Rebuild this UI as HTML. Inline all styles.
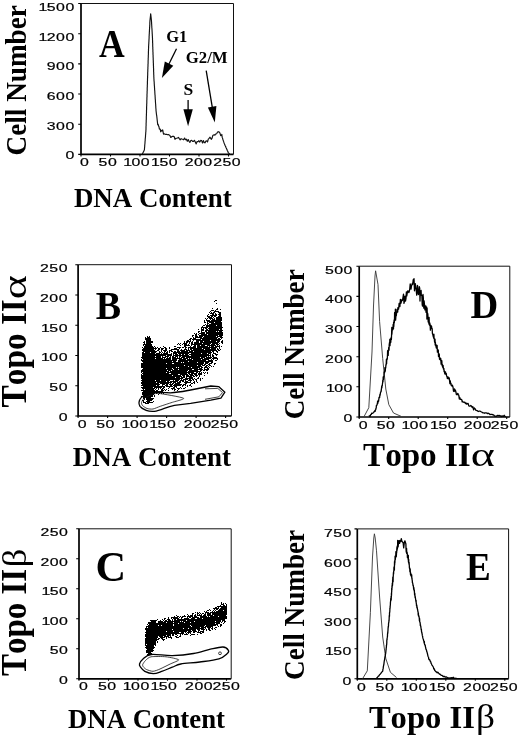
<!DOCTYPE html>
<html lang="en"><head><meta charset="utf-8"><title>Figure</title>
<style>html,body{margin:0;padding:0;background:#fff}svg{display:block}text{fill:#000;font-kerning:none}</style></head><body>
<svg width="520" height="738" viewBox="0 0 520 738" font-family='"Liberation Sans","DejaVu Sans",sans-serif'>
<rect width="520" height="738" fill="#fff"/>
<path d="M81 3.5V154.4H233.5" fill="none" stroke="#000" stroke-width="1.7"/>
<path d="M81 3.5H233.5V154.4" fill="none" stroke="#111" stroke-width="1.0"/>
<path d="M78.2 154.4H81M78.2 124.2H81M78.2 94.0H81M78.2 63.9H81M78.2 33.7H81M78.2 3.5H81M81.0 154.4v2M110.5 154.4v2M140.0 154.4v2M169.5 154.4v2M199.0 154.4v2M228.5 154.4v2" fill="none" stroke="#000" stroke-width="1.1"/>
<text transform="translate(65.42 159.2) scale(1.38 1)" x="0.00" y="0" font-size="11.5" stroke="#000" stroke-width="0.2">0</text>
<text transform="translate(46.82 129.5) scale(1.38 1)" x="0.00 6.74 13.48" y="0" font-size="11.5" stroke="#000" stroke-width="0.2">300</text>
<text transform="translate(46.82 99.8) scale(1.38 1)" x="0.00 6.74 13.48" y="0" font-size="11.5" stroke="#000" stroke-width="0.2">600</text>
<text transform="translate(46.82 70.2) scale(1.38 1)" x="0.00 6.74 13.48" y="0" font-size="11.5" stroke="#000" stroke-width="0.2">900</text>
<text transform="translate(37.52 40.5) scale(1.38 1)" x="0.72 6.74 13.48 20.22" y="0" font-size="11.5" stroke="#000" stroke-width="0.2">1200</text>
<text transform="translate(37.52 10.8) scale(1.38 1)" x="0.72 6.74 13.48 20.22" y="0" font-size="11.5" stroke="#000" stroke-width="0.2">1500</text>
<text transform="translate(79.92 166.3) scale(1.38 1)" x="0.00" y="0" font-size="11.5" stroke="#000" stroke-width="0.2">0</text>
<text transform="translate(98.62 166.3) scale(1.38 1)" x="0.00 6.74" y="0" font-size="11.5" stroke="#000" stroke-width="0.2">50</text>
<text transform="translate(122.22 166.3) scale(1.38 1)" x="0.72 6.74 13.48" y="0" font-size="11.5" stroke="#000" stroke-width="0.2">100</text>
<text transform="translate(150.12 166.3) scale(1.38 1)" x="0.72 6.74 13.48" y="0" font-size="11.5" stroke="#000" stroke-width="0.2">150</text>
<text transform="translate(184.72 166.3) scale(1.38 1)" x="0.00 6.74 13.48" y="0" font-size="11.5" stroke="#000" stroke-width="0.2">200</text>
<text transform="translate(213.22 166.3) scale(1.38 1)" x="0.00 6.74 13.48" y="0" font-size="11.5" stroke="#000" stroke-width="0.2">250</text>
<text transform="translate(25.6 155.5) rotate(-90) scale(1 1.04)" font-family='"Liberation Serif","DejaVu Serif",serif' font-weight="bold" font-size="27.3" textLength="150.4" lengthAdjust="spacingAndGlyphs">Cell Number</text>
<text x="73.9" y="206.6" font-family='"Liberation Serif","DejaVu Serif",serif' font-weight="bold" font-size="27" textLength="157.8" lengthAdjust="spacingAndGlyphs">DNA Content</text>
<text transform="translate(99.05 56.60) scale(1 1.1)" font-family='"Liberation Serif","DejaVu Serif",serif' font-weight="bold" font-size="35.6">A</text>
<text x="166.2" y="41.8" font-family='"Liberation Serif","DejaVu Serif",serif' font-weight="bold" font-size="16.5">G1</text>
<text x="185.7" y="63.0" font-family='"Liberation Serif","DejaVu Serif",serif' font-weight="bold" font-size="16.8">G2/M</text>
<text x="183.4" y="95.4" font-family='"Liberation Serif","DejaVu Serif",serif' font-weight="bold" font-size="17.5">S</text>
<path d="M176.5 48.8L168.2 65.5" stroke="#000" stroke-width="1.3" fill="none"/>
<path d="M161.9 78.0L164.8 61.5L173.3 65.8Z" fill="#000"/>
<path d="M188.1 100.0L188.1 111.3" stroke="#000" stroke-width="1.3" fill="none"/>
<path d="M188.1 126.2L183.4 109.3L192.8 109.3Z" fill="#000"/>
<path d="M206.2 70.6L212.5 108.7" stroke="#000" stroke-width="1.3" fill="none"/>
<path d="M214.8 122.5L207.9 107.4L216.4 106.0Z" fill="#000"/>
<path d="M142.3 154.1L142.7 153.3L143.1 152.5L143.5 151.7L143.9 150.9L144.3 150.1L144.5 149.2L144.5 148.3L144.6 147.4L144.7 146.5L144.7 145.6L144.8 144.7L144.9 143.8L145.0 142.9L145.0 142.0L145.1 141.1L145.2 140.2L145.2 139.3L145.3 138.4L145.4 137.5L145.5 136.6L145.5 135.7L145.6 134.8L145.7 133.9L145.7 133.0L145.8 132.1L145.9 131.2L145.9 130.3L146.0 129.4L146.0 128.5L146.0 127.6L146.0 126.7L146.1 125.8L146.1 124.9L146.1 124.0L146.1 123.1L146.2 122.2L146.2 121.2L146.2 120.3L146.3 119.4L146.3 118.5L146.3 117.6L146.3 116.7L146.4 115.8L146.4 114.9L146.4 114.0L146.5 113.1L146.5 112.2L146.5 111.3L146.5 110.4L146.6 109.5L146.6 108.6L146.6 107.7L146.6 106.8L146.7 105.9L146.7 105.0L146.7 104.1L146.8 103.2L146.8 102.3L146.8 101.4L146.8 100.5L146.9 99.6L146.9 98.7L146.9 97.8L147.0 96.9L147.0 96.0L147.0 95.1L147.0 94.2L147.1 93.3L147.1 92.4L147.1 91.5L147.2 90.6L147.2 89.7L147.2 88.8L147.2 87.9L147.3 87.0L147.3 86.0L147.3 85.1L147.4 84.2L147.4 83.3L147.4 82.4L147.4 81.5L147.5 80.6L147.5 79.7L147.5 78.8L147.6 77.9L147.6 77.0L147.6 76.1L147.7 75.2L147.7 74.3L147.7 73.4L147.7 72.5L147.8 71.6L147.8 70.7L147.8 69.8L147.9 68.9L147.9 68.0L147.9 67.1L148.0 66.2L148.0 65.3L148.0 64.4L148.1 63.5L148.1 62.6L148.1 61.7L148.1 60.8L148.2 59.9L148.2 59.0L148.2 58.1L148.3 57.2L148.3 56.3L148.3 55.4L148.4 54.5L148.4 53.6L148.4 52.7L148.4 51.8L148.5 50.9L148.5 50.0L148.5 49.0L148.6 48.1L148.6 47.2L148.6 46.3L148.7 45.4L148.7 44.5L148.8 43.6L148.8 42.7L148.9 41.8L148.9 40.9L149.0 40.0L149.0 39.1L149.1 38.2L149.1 37.3L149.1 36.4L149.2 35.5L149.2 34.6L149.3 33.7L149.3 32.8L149.4 31.9L149.4 31.0L149.5 30.1L149.5 29.2L149.6 28.3L149.6 27.4L149.7 26.5L149.7 25.6L149.8 24.7L149.8 23.8L149.8 22.9L149.9 22.0L149.9 21.1L150.0 20.2L150.1 19.3L150.2 18.4L150.3 17.5L150.4 16.6L150.5 15.7L150.6 14.8L150.6 13.9L150.7 13.8L150.8 14.7L150.9 15.6L151.0 16.5L151.1 17.4L151.2 18.3L151.3 19.2L151.4 20.1L151.5 21.0L151.5 21.9L151.6 22.8L151.6 23.7L151.7 24.6L151.7 25.5L151.8 26.4L151.8 27.3L151.9 28.2L152.0 29.1L152.0 30.0L152.1 30.9L152.1 31.8L152.2 32.7L152.2 33.6L152.3 34.5L152.3 35.4L152.4 36.3L152.4 37.2L152.5 38.1L152.5 39.0L152.5 39.9L152.6 40.8L152.6 41.7L152.6 42.6L152.7 43.5L152.7 44.4L152.7 45.3L152.7 46.2L152.8 47.1L152.8 48.0L152.8 48.9L152.9 49.8L152.9 50.7L152.9 51.6L153.0 52.5L153.0 53.5L153.0 54.4L153.1 55.3L153.1 56.2L153.1 57.1L153.2 58.0L153.2 58.9L153.2 59.8L153.3 60.7L153.3 61.6L153.3 62.5L153.4 63.4L153.4 64.3L153.4 65.2L153.5 66.1L153.5 67.0L153.5 67.9L153.6 68.8L153.6 69.7L153.6 70.6L153.6 71.5L153.7 72.4L153.7 73.3L153.7 74.2L153.8 75.1L153.8 76.0L153.8 76.9L153.9 77.8L153.9 78.7L154.0 79.6L154.0 80.5L154.1 81.4L154.2 82.3L154.2 83.2L154.3 84.1L154.3 85.0L154.4 85.9L154.5 86.8L154.5 87.7L154.6 88.6L154.6 89.5L154.7 90.4L154.8 91.3L154.8 92.2L154.9 93.1L154.9 94.0L155.0 94.9L155.1 95.8L155.1 96.7L155.2 97.6L155.2 98.5L155.3 99.4L155.4 100.3L155.4 101.2L155.5 102.1L155.5 103.0L155.6 103.9L155.7 104.8L155.7 105.7L155.8 106.6L155.8 107.5L155.9 108.5L156.0 109.4L156.0 110.3L156.1 111.1L156.2 112.0L156.3 112.9L156.4 113.8L156.5 114.7L156.7 115.6L156.8 116.5L156.9 117.4L157.0 118.3L157.1 119.2L157.2 120.1L157.3 121.0L157.4 121.9L157.5 122.8L157.6 123.7L157.7 124.6L158.1 124.2L158.5 125.9L159.0 126.8L159.4 129.1L159.8 128.9L160.3 129.3L160.7 131.8L161.2 130.3L161.9 131.0L162.7 129.9L163.5 134.1L164.2 133.8L165.0 134.2L165.8 134.4L166.6 134.3L167.4 134.7L168.3 134.5L169.1 134.9L169.9 135.5L170.8 137.5L171.6 136.8L172.5 136.4L173.3 136.2L174.1 136.5L175.0 139.3L175.8 138.4L176.7 138.2L177.5 138.0L178.4 137.4L179.3 138.7L180.2 139.9L181.1 138.7L181.9 139.0L182.8 139.2L183.7 139.8L184.6 138.1L185.5 139.7L186.4 139.2L187.3 141.3L188.2 139.6L189.0 141.3L189.9 142.4L190.8 140.5L191.7 140.3L192.6 141.3L193.5 141.3L194.4 140.3L195.3 142.0L196.2 143.9L197.1 141.5L198.0 141.7L198.9 140.7L199.8 142.1L200.7 140.4L201.6 140.5L202.5 143.0L203.4 140.6L204.3 142.7L205.1 142.8L205.9 141.0L206.7 140.9L207.5 142.0L208.3 139.2L209.1 138.4L209.9 137.2L210.7 138.3L211.4 139.3L212.1 138.1L212.8 135.5L213.5 135.0L214.2 134.8L214.9 135.1L215.6 134.0L216.3 133.9L216.9 133.3L217.6 132.0L218.2 131.7L218.9 131.9L219.5 132.3L220.1 133.6L220.7 135.7L221.2 135.1L221.5 135.3L221.8 134.3L222.1 137.0L222.4 137.9L222.7 138.7L222.9 139.6L223.2 140.4L223.5 141.3L223.8 142.1L224.1 143.0L224.4 143.8L224.8 144.7L225.1 145.5L225.5 146.3L225.8 147.1L226.2 148.0L226.6 148.8L226.9 149.6L227.3 150.5L227.7 151.3L228.0 152.1L228.4 152.9L229.1 153.5L229.8 154.1L230.5 154.6" fill="none" stroke="#111" stroke-width="1.15" stroke-linejoin="round"/>
<path d="M78.1 264.7V416H231.5" fill="none" stroke="#000" stroke-width="1.7"/>
<path d="M78.1 264.7H231.5V416" fill="none" stroke="#111" stroke-width="1.0"/>
<path d="M75.3 416.0H78.1M75.3 385.7H78.1M75.3 355.5H78.1M75.3 325.2H78.1M75.3 295.0H78.1M75.3 264.7H78.1M78.1 416v2M107.6 416v2M137.1 416v2M166.6 416v2M196.1 416v2M225.6 416v2" fill="none" stroke="#000" stroke-width="1.1"/>
<text transform="translate(58.67 420.8) scale(1.38 1)" x="0.00" y="0" font-size="11.5" stroke="#000" stroke-width="0.2">0</text>
<text transform="translate(49.37 391.1) scale(1.38 1)" x="0.00 6.74" y="0" font-size="11.5" stroke="#000" stroke-width="0.2">50</text>
<text transform="translate(40.07 361.4) scale(1.38 1)" x="0.72 6.74 13.48" y="0" font-size="11.5" stroke="#000" stroke-width="0.2">100</text>
<text transform="translate(40.07 331.8) scale(1.38 1)" x="0.72 6.74 13.48" y="0" font-size="11.5" stroke="#000" stroke-width="0.2">150</text>
<text transform="translate(40.07 302.1) scale(1.38 1)" x="0.00 6.74 13.48" y="0" font-size="11.5" stroke="#000" stroke-width="0.2">200</text>
<text transform="translate(40.07 272.4) scale(1.38 1)" x="0.00 6.74 13.48" y="0" font-size="11.5" stroke="#000" stroke-width="0.2">250</text>
<text transform="translate(77.82 427.9) scale(1.38 1)" x="0.00" y="0" font-size="11.5" stroke="#000" stroke-width="0.2">0</text>
<text transform="translate(96.22 427.9) scale(1.38 1)" x="0.00 6.74" y="0" font-size="11.5" stroke="#000" stroke-width="0.2">50</text>
<text transform="translate(120.62 427.9) scale(1.38 1)" x="0.72 6.74 13.48" y="0" font-size="11.5" stroke="#000" stroke-width="0.2">100</text>
<text transform="translate(148.32 427.9) scale(1.38 1)" x="0.72 6.74 13.48" y="0" font-size="11.5" stroke="#000" stroke-width="0.2">150</text>
<text transform="translate(183.72 427.9) scale(1.38 1)" x="0.00 6.74 13.48" y="0" font-size="11.5" stroke="#000" stroke-width="0.2">200</text>
<text transform="translate(210.72 427.9) scale(1.38 1)" x="0.00 6.74 13.48" y="0" font-size="11.5" stroke="#000" stroke-width="0.2">250</text>
<text transform="translate(25.6 407.4) rotate(-90) scale(1 1.08)" font-family='"Liberation Serif","DejaVu Serif",serif' font-weight="bold" font-size="33.3">Topo II<tspan font-weight="normal" font-size="31.5" textLength="24" lengthAdjust="spacingAndGlyphs">α</tspan></text>
<text x="72.8" y="465.5" font-family='"Liberation Serif","DejaVu Serif",serif' font-weight="bold" font-size="27.5" textLength="158.2" lengthAdjust="spacingAndGlyphs">DNA Content</text>
<text transform="translate(95.67 318.60) scale(1 1.05)" font-family='"Liberation Serif","DejaVu Serif",serif' font-weight="bold" font-size="38.0">B</text>
<path transform="translate(0 0.5)" d="M215 300h2M214 301h1M216 303h1M212 308h1M217 308h1M216 309h2M220 309h1M211 310h3M215 310h1M210 311h1M214 311h5M209 312h1M211 312h1M213 312h2M218 312h3M210 313h4M215 313h1M219 313h2M208 314h1M212 314h2M215 314h2M218 314h3M207 315h1M210 315h7M219 315h2M207 316h3M211 316h2M214 316h2M218 316h3M208 317h4M213 317h1M216 317h6M205 318h1M207 318h1M209 318h4M214 318h1M216 318h6M206 319h1M210 319h1M212 319h3M216 319h6M204 320h1M206 320h4M211 320h11M204 321h1M207 321h14M204 322h2M207 322h1M209 322h5M215 322h7M207 323h2M211 323h11M205 324h1M207 324h1M209 324h13M203 325h2M206 325h10M217 325h5M202 326h1M206 326h16M201 327h7M209 327h14M201 328h1M203 328h1M205 328h2M208 328h14M198 329h1M201 329h3M206 329h2M209 329h10M220 329h2M201 330h3M205 330h18M198 331h2M201 331h1M205 331h2M208 331h8M217 331h1M219 331h3M198 332h1M201 332h4M206 332h17M194 333h1M196 333h1M199 333h6M206 333h17M195 334h2M198 334h1M201 334h6M208 334h15M192 335h2M195 335h2M199 335h19M219 335h4M147 336h1M149 336h1M192 336h1M195 336h3M199 336h4M204 336h12M217 336h5M145 337h1M147 337h3M193 337h1M195 337h7M203 337h15M220 337h3M145 338h6M190 338h2M193 338h3M200 338h17M218 338h2M221 338h1M145 339h6M189 339h2M192 339h9M202 339h19M146 340h5M187 340h2M190 340h1M193 340h1M196 340h14M211 340h9M222 340h1M144 341h1M146 341h7M184 341h1M186 341h5M192 341h1M196 341h3M200 341h3M204 341h12M217 341h3M221 341h2M143 342h2M146 342h7M184 342h1M186 342h2M189 342h1M191 342h2M194 342h5M200 342h19M221 342h2M144 343h1M146 343h5M178 343h1M180 343h1M183 343h4M189 343h1M191 343h2M194 343h8M203 343h8M212 343h6M219 343h1M222 343h1M143 344h9M177 344h1M179 344h1M182 344h1M184 344h3M188 344h1M191 344h19M211 344h4M216 344h3M143 345h1M145 345h7M180 345h1M184 345h6M191 345h1M194 345h2M197 345h3M201 345h4M207 345h9M217 345h1M219 345h1M144 346h9M154 346h1M163 346h1M174 346h2M184 346h2M190 346h1M193 346h3M197 346h11M209 346h1M211 346h3M215 346h5M221 346h1M142 347h1M144 347h10M155 347h1M157 347h1M160 347h1M164 347h2M169 347h1M177 347h4M182 347h2M185 347h2M188 347h8M197 347h20M219 347h1M143 348h14M158 348h2M161 348h3M165 348h2M169 348h1M174 348h3M179 348h1M185 348h1M188 348h1M190 348h12M203 348h7M211 348h5M217 348h1M219 348h1M142 349h12M155 349h1M158 349h2M161 349h2M165 349h2M171 349h8M181 349h1M184 349h3M188 349h1M190 349h2M193 349h11M205 349h11M217 349h2M220 349h1M142 350h13M157 350h2M161 350h1M163 350h4M169 350h3M177 350h2M180 350h5M186 350h4M191 350h26M218 350h2M143 351h14M159 351h1M161 351h1M164 351h2M167 351h1M169 351h1M171 351h2M174 351h2M177 351h3M181 351h7M189 351h4M194 351h17M212 351h2M216 351h2M142 352h2M145 352h5M151 352h5M159 352h2M162 352h1M164 352h1M166 352h2M169 352h1M173 352h39M213 352h1M217 352h1M142 353h13M156 353h4M161 353h1M163 353h5M171 353h1M173 353h4M178 353h11M191 353h10M202 353h5M208 353h3M213 353h3M142 354h30M173 354h1M175 354h3M179 354h2M182 354h2M185 354h3M189 354h20M210 354h1M212 354h1M215 354h3M142 355h24M167 355h5M173 355h16M191 355h20M212 355h2M216 355h1M142 356h13M156 356h5M162 356h1M165 356h4M170 356h1M172 356h2M175 356h3M179 356h2M182 356h25M208 356h1M210 356h1M212 356h2M141 357h20M162 357h4M167 357h1M169 357h2M172 357h4M177 357h1M179 357h1M181 357h4M186 357h14M201 357h4M206 357h6M213 357h4M142 358h13M156 358h7M164 358h1M166 358h5M172 358h10M183 358h5M189 358h1M191 358h12M204 358h7M212 358h6M141 359h1M143 359h28M172 359h5M179 359h7M187 359h5M193 359h8M202 359h7M211 359h1M213 359h1M217 359h1M141 360h36M178 360h28M208 360h5M215 360h2M142 361h30M173 361h3M178 361h10M189 361h24M143 362h38M182 362h1M184 362h13M198 362h6M205 362h4M211 362h2M141 363h25M167 363h5M174 363h30M205 363h3M209 363h3M214 363h2M141 364h62M204 364h2M208 364h2M214 364h1M141 365h43M185 365h12M198 365h3M202 365h3M206 365h2M209 365h2M141 366h47M189 366h13M205 366h2M208 366h1M211 366h1M213 366h1M141 367h35M177 367h1M179 367h12M192 367h8M201 367h2M204 367h4M209 367h1M143 368h23M167 368h5M173 368h25M199 368h3M204 368h1M207 368h2M142 369h31M174 369h4M179 369h13M194 369h9M204 369h5M141 370h26M168 370h3M172 370h16M189 370h9M200 370h2M203 370h2M206 370h2M141 371h28M170 371h17M188 371h13M141 372h1M143 372h23M167 372h27M196 372h2M199 372h1M201 372h1M203 372h1M205 372h1M207 372h1M142 373h27M171 373h16M188 373h2M191 373h6M198 373h4M204 373h1M207 373h1M141 374h1M143 374h35M180 374h8M189 374h4M194 374h3M198 374h4M141 375h31M173 375h8M182 375h3M186 375h3M190 375h4M195 375h3M199 375h1M204 375h1M141 376h41M183 376h2M186 376h6M193 376h2M196 376h1M199 376h1M141 377h34M176 377h4M181 377h4M186 377h1M189 377h4M198 377h1M141 378h42M185 378h8M194 378h1M197 378h2M200 378h1M202 378h1M142 379h38M181 379h1M183 379h5M189 379h2M192 379h2M195 379h2M200 379h1M141 380h14M156 380h4M161 380h9M173 380h1M175 380h4M180 380h4M185 380h1M188 380h4M193 380h1M196 380h1M200 380h1M142 381h24M167 381h2M170 381h8M179 381h2M182 381h2M185 381h3M190 381h1M194 381h1M196 381h1M141 382h15M157 382h15M173 382h3M177 382h4M184 382h7M193 382h2M197 382h1M141 383h18M160 383h9M170 383h1M172 383h2M175 383h5M185 383h2M191 383h2M194 383h1M142 384h18M162 384h3M166 384h2M169 384h4M174 384h8M183 384h3M190 384h1M141 385h15M157 385h2M162 385h1M165 385h3M170 385h2M173 385h8M182 385h2M185 385h1M187 385h1M189 385h2M143 386h22M166 386h7M174 386h3M182 386h1M187 386h1M191 386h1M141 387h12M154 387h8M163 387h2M169 387h1M173 387h2M176 387h1M180 387h1M185 387h1M142 388h13M156 388h1M158 388h1M160 388h1M162 388h2M168 388h1M171 388h4M177 388h3M181 388h1M183 388h2M143 389h1M145 389h9M155 389h1M158 389h1M161 389h2M164 389h1M166 389h1M172 389h1M174 389h2M178 389h1M141 390h14M156 390h2M161 390h3M165 390h1M168 390h1M174 390h1M177 390h1M143 391h20M142 392h11M156 392h1M159 392h1M162 392h1M167 392h1M142 393h13M156 393h1M159 393h1M161 393h1M163 393h1M142 394h12M158 394h1M143 395h10M154 395h1M141 396h1M143 396h10M154 396h1M143 397h8M143 398h2M146 398h8M144 399h1M146 399h7M142 400h2M147 400h5M143 401h1M146 401h4M153 401h1M143 402h3M147 402h6M145 403h4" stroke="#000" stroke-width="1" fill="none" shape-rendering="crispEdges"/>
<path d="M139 402.3C139.5 399 141.5 396.5 145 395C149 393.3 153 392.4 157 392.2L170.4 392.8C178 392.5 184 391.2 190.6 390L210.8 386L218.9 386.7L224.9 392.2L220.9 398.2L210.8 400.2L190.6 403.3L174.4 405.3C170 406.2 167 407.3 164.3 408.3C160 410 157 411 154.2 411.3C151 411.5 148.5 411.2 146.2 410.3C143 409 141 407.8 140 406.3C139.2 405 138.8 403.5 139 402.3Z" fill="none" stroke="#000" stroke-width="1.3" stroke-linejoin="round"/>
<path d="M141.5 402.5C141.7 401.7 143.0 399.3 144.0 398.5C145.0 397.7 148.3 396.1 150.0 395.5C151.7 394.9 154.4 393.1 158.3 393.4C162.2 393.7 181.9 397.2 183.5 398.2C185.1 399.2 175.1 401.4 172.4 402.3C169.7 403.2 162.6 405.5 160.3 406.3C158.0 407.1 154.6 408.7 153.0 409.0C151.4 409.3 148.2 408.9 147.0 408.5C145.8 408.1 143.1 406.2 142.5 405.5C141.9 404.8 141.3 403.3 141.5 402.5Z" fill="none" stroke="#111" stroke-width="0.8" stroke-linejoin="round"/>
<path d="M205.0 388.8L217.8 388.4L222.5 392.6L218.9 396.8L205.0 399.3" fill="none" stroke="#111" stroke-width="0.8" stroke-linejoin="round"/>
<path d="M79 528.8V678.8H231.2" fill="none" stroke="#000" stroke-width="1.7"/>
<path d="M79 528.8H231.2V678.8" fill="none" stroke="#111" stroke-width="1.0"/>
<path d="M76.2 678.8H79M76.2 648.8H79M76.2 618.8H79M76.2 588.8H79M76.2 558.8H79M76.2 528.8H79M79.0 678.8v2M108.5 678.8v2M138.0 678.8v2M167.5 678.8v2M197.0 678.8v2M226.5 678.8v2" fill="none" stroke="#000" stroke-width="1.1"/>
<text transform="translate(59.12 683.8) scale(1.38 1)" x="0.00" y="0" font-size="11.5" stroke="#000" stroke-width="0.2">0</text>
<text transform="translate(49.82 654.3) scale(1.38 1)" x="0.00 6.74" y="0" font-size="11.5" stroke="#000" stroke-width="0.2">50</text>
<text transform="translate(40.52 624.8) scale(1.38 1)" x="0.72 6.74 13.48" y="0" font-size="11.5" stroke="#000" stroke-width="0.2">100</text>
<text transform="translate(40.52 595.3) scale(1.38 1)" x="0.72 6.74 13.48" y="0" font-size="11.5" stroke="#000" stroke-width="0.2">150</text>
<text transform="translate(40.52 565.8) scale(1.38 1)" x="0.00 6.74 13.48" y="0" font-size="11.5" stroke="#000" stroke-width="0.2">200</text>
<text transform="translate(40.52 536.3) scale(1.38 1)" x="0.00 6.74 13.48" y="0" font-size="11.5" stroke="#000" stroke-width="0.2">250</text>
<text transform="translate(79.02 690.4) scale(1.38 1)" x="0.00" y="0" font-size="11.5" stroke="#000" stroke-width="0.2">0</text>
<text transform="translate(97.92 690.4) scale(1.38 1)" x="0.00 6.74" y="0" font-size="11.5" stroke="#000" stroke-width="0.2">50</text>
<text transform="translate(121.82 690.4) scale(1.38 1)" x="0.72 6.74 13.48" y="0" font-size="11.5" stroke="#000" stroke-width="0.2">100</text>
<text transform="translate(149.52 690.4) scale(1.38 1)" x="0.72 6.74 13.48" y="0" font-size="11.5" stroke="#000" stroke-width="0.2">150</text>
<text transform="translate(185.12 690.4) scale(1.38 1)" x="0.00 6.74 13.48" y="0" font-size="11.5" stroke="#000" stroke-width="0.2">200</text>
<text transform="translate(212.42 690.4) scale(1.38 1)" x="0.00 6.74 13.48" y="0" font-size="11.5" stroke="#000" stroke-width="0.2">250</text>
<text transform="translate(25.6 676.1) rotate(-90) scale(1 1.08)" font-family='"Liberation Serif","DejaVu Serif",serif' font-weight="bold" font-size="33.0">Topo II<tspan font-weight="normal" font-size="32" dx="1.6" textLength="18.5" lengthAdjust="spacingAndGlyphs">β</tspan></text>
<text x="68.0" y="727.7" font-family='"Liberation Serif","DejaVu Serif",serif' font-weight="bold" font-size="27.5" textLength="157.0" lengthAdjust="spacingAndGlyphs">DNA Content</text>
<text transform="translate(95.54 581.10) scale(1 0.975)" font-family='"Liberation Serif","DejaVu Serif",serif' font-weight="bold" font-size="42.3">C</text>
<path transform="translate(0 0.5)" d="M221 602h1M221 603h1M223 603h1M225 603h1M221 604h3M226 604h1M220 605h1M223 605h2M226 605h1M217 606h10M215 607h2M218 607h1M221 607h6M213 608h6M220 608h7M209 609h1M214 609h1M216 609h2M219 609h8M207 610h2M210 610h1M213 610h1M215 610h1M218 610h5M224 610h3M204 611h1M206 611h1M212 611h1M214 611h1M216 611h11M195 612h1M197 612h1M199 612h1M205 612h4M210 612h17M192 613h2M197 613h2M200 613h1M202 613h2M205 613h1M207 613h4M212 613h15M187 614h1M192 614h1M195 614h1M197 614h1M199 614h1M201 614h1M204 614h2M207 614h4M212 614h15M176 615h1M184 615h1M188 615h1M190 615h3M194 615h2M197 615h5M203 615h3M207 615h6M214 615h12M174 616h1M177 616h2M180 616h1M182 616h4M187 616h6M194 616h3M200 616h7M208 616h1M210 616h8M219 616h8M168 617h1M171 617h7M179 617h1M181 617h2M187 617h1M189 617h2M192 617h7M200 617h27M164 618h2M168 618h1M171 618h1M173 618h6M181 618h1M184 618h5M191 618h4M197 618h5M203 618h24M157 619h1M162 619h1M164 619h1M167 619h3M172 619h1M174 619h2M177 619h48M150 620h7M160 620h1M163 620h1M165 620h2M168 620h3M172 620h1M174 620h12M187 620h34M222 620h3M151 621h5M158 621h5M164 621h16M181 621h1M183 621h11M195 621h20M216 621h5M222 621h1M224 621h2M148 622h8M158 622h8M167 622h6M174 622h10M185 622h5M191 622h29M221 622h1M224 622h1M148 623h30M179 623h36M216 623h4M223 623h1M147 624h1M149 624h24M174 624h44M220 624h2M148 625h10M159 625h2M162 625h11M174 625h16M191 625h14M206 625h10M217 625h1M220 625h2M146 626h45M192 626h12M205 626h8M218 626h1M220 626h1M146 627h1M148 627h52M201 627h5M207 627h4M212 627h1M215 627h2M145 628h38M184 628h4M189 628h15M205 628h1M208 628h2M211 628h2M214 628h1M145 629h27M173 629h23M197 629h3M201 629h4M206 629h1M208 629h2M212 629h1M215 629h1M146 630h45M192 630h4M198 630h2M203 630h1M206 630h1M209 630h2M146 631h20M167 631h6M174 631h13M188 631h4M193 631h4M198 631h1M200 631h4M145 632h34M181 632h3M185 632h1M187 632h4M193 632h2M197 632h4M202 632h2M146 633h38M186 633h1M188 633h1M190 633h1M200 633h2M145 634h26M172 634h2M175 634h2M180 634h1M182 634h1M184 634h4M191 634h4M197 634h1M145 635h21M167 635h4M172 635h2M177 635h1M180 635h1M190 635h1M145 636h13M159 636h4M164 636h5M170 636h1M175 636h2M179 636h2M146 637h12M160 637h5M166 637h1M168 637h4M176 637h3M145 638h12M158 638h2M161 638h2M166 638h1M171 638h1M145 639h14M162 639h3M145 640h12M163 640h1M145 641h11M157 641h1M145 642h11M157 642h1M145 643h11M145 644h1M147 644h9M145 645h9M155 645h1M146 646h8M145 647h10M146 648h8M147 649h6M146 650h8M146 651h7M146 652h5M148 653h4M147 654h3" stroke="#000" stroke-width="1" fill="none" shape-rendering="crispEdges"/>
<path d="M139.5 664.0C139.9 662.6 141.1 660.6 143.0 659.0C144.9 657.4 146.3 655.1 151.2 654.5C156.1 653.9 165.2 655.8 172.3 655.6C179.4 655.4 187.2 654.6 193.5 653.5C199.8 652.4 205.5 650.3 210.4 649.2C215.3 648.1 220.0 646.8 223.0 647.0C226.0 647.2 227.7 649.2 228.4 650.3C229.1 651.4 228.9 652.1 227.3 653.5C225.7 654.9 223.5 657.4 218.9 658.8C214.3 660.2 206.2 661.1 199.8 662.0C193.5 662.9 185.4 663.1 180.8 664.0C176.2 664.9 175.5 666.0 172.3 667.2C169.1 668.4 164.9 670.3 161.7 671.4C158.5 672.5 156.1 673.6 153.3 673.6C150.5 673.6 146.9 672.5 144.8 671.4C142.7 670.3 141.5 668.4 140.6 667.2C139.7 666.0 139.1 665.4 139.5 664.0Z" fill="none" stroke="#000" stroke-width="1.3" stroke-linejoin="round"/>
<path d="M142.7 664.5C143.0 663.8 144.5 661.4 145.5 660.5C146.5 659.6 148.6 657.2 151.0 656.8C153.4 656.4 162.8 656.4 166.0 656.8C169.2 657.1 178.2 659.0 178.7 659.8C179.2 660.6 172.4 662.9 170.2 664.0C168.0 665.1 162.0 668.1 160.0 669.0C158.0 669.9 154.6 671.2 153.0 671.3C151.4 671.4 147.6 670.0 146.5 669.5C145.4 669.0 143.7 667.4 143.3 666.8C142.9 666.2 142.4 665.2 142.7 664.5Z" fill="none" stroke="#111" stroke-width="0.8" stroke-linejoin="round"/>
<circle cx="220" cy="653.3" r="1.4" fill="none" stroke="#111" stroke-width="0.8"/>
<path d="M359.2 266.2V417H509.8" fill="none" stroke="#000" stroke-width="1.7"/>
<path d="M359.2 266.2H509.8V417" fill="none" stroke="#111" stroke-width="1.0"/>
<path d="M356.4 417.0H359.2M356.4 386.8H359.2M356.4 356.7H359.2M356.4 326.5H359.2M356.4 296.4H359.2M356.4 266.2H359.2M359.2 417v2M388.7 417v2M418.2 417v2M447.7 417v2M477.2 417v2M506.7 417v2" fill="none" stroke="#000" stroke-width="1.1"/>
<text transform="translate(343.52 421.8) scale(1.38 1)" x="0.00" y="0" font-size="11.5" stroke="#000" stroke-width="0.2">0</text>
<text transform="translate(324.92 392.2) scale(1.38 1)" x="0.72 6.74 13.48" y="0" font-size="11.5" stroke="#000" stroke-width="0.2">100</text>
<text transform="translate(324.92 362.6) scale(1.38 1)" x="0.00 6.74 13.48" y="0" font-size="11.5" stroke="#000" stroke-width="0.2">200</text>
<text transform="translate(324.92 333.0) scale(1.38 1)" x="0.00 6.74 13.48" y="0" font-size="11.5" stroke="#000" stroke-width="0.2">300</text>
<text transform="translate(324.92 303.4) scale(1.38 1)" x="0.00 6.74 13.48" y="0" font-size="11.5" stroke="#000" stroke-width="0.2">400</text>
<text transform="translate(324.92 273.8) scale(1.38 1)" x="0.00 6.74 13.48" y="0" font-size="11.5" stroke="#000" stroke-width="0.2">500</text>
<text transform="translate(358.72 428.8) scale(1.38 1)" x="0.00" y="0" font-size="11.5" stroke="#000" stroke-width="0.2">0</text>
<text transform="translate(376.72 428.8) scale(1.38 1)" x="0.00 6.74" y="0" font-size="11.5" stroke="#000" stroke-width="0.2">50</text>
<text transform="translate(400.42 428.8) scale(1.38 1)" x="0.72 6.74 13.48" y="0" font-size="11.5" stroke="#000" stroke-width="0.2">100</text>
<text transform="translate(429.12 428.8) scale(1.38 1)" x="0.72 6.74 13.48" y="0" font-size="11.5" stroke="#000" stroke-width="0.2">150</text>
<text transform="translate(463.82 428.8) scale(1.38 1)" x="0.00 6.74 13.48" y="0" font-size="11.5" stroke="#000" stroke-width="0.2">200</text>
<text transform="translate(490.82 428.8) scale(1.38 1)" x="0.00 6.74 13.48" y="0" font-size="11.5" stroke="#000" stroke-width="0.2">250</text>
<text transform="translate(303.8 419.3) rotate(-90) scale(1 1.04)" font-family='"Liberation Serif","DejaVu Serif",serif' font-weight="bold" font-size="27.3" textLength="150.0" lengthAdjust="spacingAndGlyphs">Cell Number</text>
<text x="363.1" y="466.0" font-family='"Liberation Serif","DejaVu Serif",serif' font-weight="bold" font-size="33.1">Topo II<tspan font-weight="normal" font-size="33" textLength="24" lengthAdjust="spacingAndGlyphs">α</tspan></text>
<text transform="translate(470.42 318.40) scale(1 1.03)" font-family='"Liberation Serif","DejaVu Serif",serif' font-weight="bold" font-size="38.4">D</text>
<path d="M364.2 416.3L368.8 407.7L372.0 352.0L373.5 306.0L375.0 276.0L375.6 270.8L376.5 276.0L378.0 284.6L379.6 321.5L382.7 358.5L385.8 389.0L388.8 404.6L393.5 413.0L401.0 416.3" fill="none" stroke="#333" stroke-width="0.9" stroke-linejoin="round"/>
<path d="M368.8 416.2L369.4 415.9L370.0 416.5L370.6 414.8L371.2 414.4L371.8 413.1L372.4 413.3L373.0 413.0L373.6 412.5L374.2 411.7L374.8 410.6L375.2 411.3L375.4 409.8L375.7 409.9L375.9 408.4L376.2 408.1L376.4 405.5L376.7 405.2L376.9 405.3L377.1 404.8L377.4 402.9L377.6 401.4L377.9 403.1L378.1 400.5L378.4 401.3L378.6 401.3L378.9 398.5L379.1 397.2L379.4 397.2L379.6 397.6L379.9 394.5L380.1 395.4L380.4 393.2L380.6 392.2L380.9 391.6L381.1 391.7L381.2 389.8L381.3 390.5L381.5 388.3L381.6 387.6L381.7 386.3L381.9 387.8L382.0 385.5L382.2 385.7L382.3 385.7L382.4 384.2L382.6 383.0L382.7 381.8L382.8 380.2L383.0 381.7L383.1 380.0L383.2 376.8L383.4 377.5L383.5 379.4L383.7 377.5L383.8 376.6L383.9 376.7L384.1 372.0L384.2 373.2L384.3 372.3L384.5 372.1L384.6 372.6L384.8 370.1L384.9 367.7L385.0 368.3L385.2 367.4L385.3 371.1L385.4 368.5L385.6 367.9L385.7 367.9L385.9 364.7L386.0 365.3L386.2 364.1L386.3 362.8L386.4 359.4L386.6 363.8L386.7 359.9L386.9 358.7L387.0 359.6L387.2 358.1L387.3 358.9L387.5 354.6L387.6 350.7L387.8 351.3L387.9 353.2L388.1 353.5L388.2 355.4L388.4 349.8L388.5 350.4L388.7 347.5L388.8 349.8L389.0 350.3L389.1 349.4L389.2 344.9L389.4 343.3L389.5 342.6L389.7 344.4L389.8 339.4L390.0 345.6L390.1 343.7L390.3 342.9L390.4 338.9L390.6 340.2L390.8 342.4L390.9 338.2L391.1 339.1L391.3 337.1L391.4 339.6L391.6 333.9L391.8 327.5L391.9 334.2L392.1 331.1L392.3 327.8L392.4 329.2L392.6 327.7L392.8 329.9L392.9 329.6L393.1 324.8L393.3 324.1L393.5 328.7L393.6 322.2L393.8 326.4L394.0 322.7L394.1 320.0L394.3 322.7L394.5 320.4L394.6 312.6L394.8 319.5L395.0 314.8L395.2 315.0L395.4 309.1L395.6 320.2L395.9 316.0L396.1 312.5L396.3 315.7L396.5 313.6L396.8 311.6L397.0 309.3L397.2 310.4L397.5 311.2L397.7 312.0L397.9 307.6L398.1 308.0L398.4 309.0L398.6 309.1L398.8 307.1L399.1 303.5L399.3 304.9L399.5 303.3L399.9 306.5L400.4 299.3L400.9 303.3L401.4 301.6L401.9 299.7L402.4 300.5L403.0 297.3L403.5 294.1L404.0 303.4L404.5 301.1L405.0 296.1L405.5 301.1L406.0 298.5L406.4 291.9L406.8 295.8L407.2 293.3L407.7 290.8L408.1 290.9L408.5 292.1L408.9 292.6L409.4 290.8L409.8 288.5L410.2 284.0L410.6 285.6L411.0 289.1L411.5 285.9L411.9 284.7L412.3 283.5L412.7 284.5L413.2 279.7L413.6 281.5L414.0 278.6L414.5 290.8L414.9 286.4L415.3 283.6L415.8 286.9L416.2 289.9L416.7 295.2L417.1 291.9L417.5 285.3L418.0 291.5L418.4 294.5L418.9 292.1L419.3 286.6L419.7 288.1L420.0 301.1L420.2 295.5L420.5 291.6L420.8 291.6L421.1 290.5L421.3 295.2L421.6 295.4L421.9 295.9L422.2 304.7L422.5 306.1L422.7 299.6L423.0 294.5L423.3 297.6L423.6 304.5L423.8 308.1L424.1 300.9L424.4 304.0L424.7 305.7L424.9 309.9L425.2 308.6L425.5 307.8L425.8 305.8L426.0 312.3L426.2 311.6L426.4 308.2L426.7 307.2L426.9 319.1L427.1 308.2L427.3 315.5L427.5 313.1L427.8 313.9L428.0 316.5L428.2 322.0L428.4 319.5L428.7 317.8L428.9 324.0L429.1 317.3L429.3 324.0L429.5 325.1L429.8 322.9L430.0 324.3L430.2 326.4L430.4 330.1L430.6 328.9L430.9 325.5L431.1 326.7L431.3 326.6L431.5 326.0L431.8 328.4L432.0 328.3L432.2 328.9L432.4 333.5L432.6 333.8L432.8 334.6L433.1 335.9L433.3 336.8L433.5 336.4L433.7 338.2L433.9 334.2L434.1 338.5L434.3 338.7L434.6 342.2L434.8 340.7L435.0 339.1L435.2 345.1L435.4 342.2L435.6 345.3L435.9 346.1L436.1 346.8L436.3 348.0L436.5 345.2L436.7 345.1L436.9 348.1L437.1 345.4L437.4 352.2L437.6 351.4L437.8 351.0L438.0 350.5L438.3 350.0L438.5 356.6L438.8 355.7L439.0 353.7L439.3 354.5L439.5 359.3L439.8 358.2L440.1 357.9L440.3 359.9L440.6 360.1L440.8 358.6L441.1 364.2L441.3 363.9L441.6 363.3L441.8 360.6L442.1 365.7L442.3 364.5L442.6 366.9L442.9 367.5L443.1 365.3L443.4 369.0L443.6 368.6L443.9 368.5L444.1 371.6L444.5 371.0L444.8 373.9L445.2 373.5L445.5 371.8L445.9 374.4L446.3 373.6L446.6 376.2L447.0 376.3L447.4 378.7L447.7 377.4L448.1 376.9L448.4 378.6L448.8 378.9L449.2 377.8L449.5 380.2L449.9 383.6L450.3 381.0L450.6 384.0L451.0 383.4L451.3 385.6L451.7 385.8L452.1 386.0L452.4 385.2L452.8 386.5L453.1 387.7L453.5 391.2L454.0 391.5L454.5 389.0L455.0 391.2L455.4 390.2L455.9 392.0L456.4 394.5L456.9 394.6L457.4 394.7L457.8 393.3L458.3 394.8L458.8 395.3L459.3 398.8L459.8 397.5L460.2 399.3L460.7 399.1L461.2 399.4L461.7 399.6L462.2 401.9L462.6 401.3L463.3 402.2L464.0 402.3L464.7 402.1L465.4 403.6L466.0 402.9L466.7 404.1L467.4 403.7L468.1 403.4L468.8 405.9L469.5 406.2L470.2 406.1L470.8 405.4L471.5 406.1L472.2 407.5L472.9 406.8L473.6 409.9L474.3 407.9L475.0 408.6L475.6 410.1L476.3 410.3L477.0 410.5L477.7 411.1L478.4 411.5L479.2 411.2L480.0 411.2L480.7 411.5L481.5 412.0L482.3 412.3L483.0 412.9L483.8 412.8L484.6 413.3L485.4 412.8L486.1 412.9L486.9 413.1L487.7 413.6L488.4 413.2L489.2 413.8L490.0 414.6L490.7 414.4L491.5 414.3L492.3 414.5L493.0 414.8L493.8 415.0L494.6 416.2L495.4 416.2L496.2 416.4L497.0 415.6L497.8 415.4L498.6 415.6L499.4 415.4L500.2 416.1L501.0 415.8L501.8 416.6L502.6 415.9L503.4 416.4L504.2 415.3L505.0 416.4L505.8 416.6" fill="none" stroke="#000" stroke-width="1.3" stroke-linejoin="round"/>
<path d="M357.3 528.9V678.8H508.6" fill="none" stroke="#000" stroke-width="1.7"/>
<path d="M357.3 528.9H508.6V678.8" fill="none" stroke="#111" stroke-width="1.0"/>
<path d="M354.5 678.8H357.3M354.5 648.8H357.3M354.5 618.8H357.3M354.5 588.9H357.3M354.5 558.9H357.3M354.5 528.9H357.3M357.3 678.8v2M386.8 678.8v2M416.3 678.8v2M445.8 678.8v2M475.3 678.8v2M504.8 678.8v2" fill="none" stroke="#000" stroke-width="1.1"/>
<text transform="translate(342.62 684.6) scale(1.38 1)" x="0.00" y="0" font-size="11.5" stroke="#000" stroke-width="0.2">0</text>
<text transform="translate(324.02 655.1) scale(1.38 1)" x="0.72 6.74 13.48" y="0" font-size="11.5" stroke="#000" stroke-width="0.2">150</text>
<text transform="translate(324.02 625.6) scale(1.38 1)" x="0.00 6.74 13.48" y="0" font-size="11.5" stroke="#000" stroke-width="0.2">300</text>
<text transform="translate(324.02 596.1) scale(1.38 1)" x="0.00 6.74 13.48" y="0" font-size="11.5" stroke="#000" stroke-width="0.2">450</text>
<text transform="translate(324.02 566.6) scale(1.38 1)" x="0.00 6.74 13.48" y="0" font-size="11.5" stroke="#000" stroke-width="0.2">600</text>
<text transform="translate(324.02 537.1) scale(1.38 1)" x="0.00 6.74 13.48" y="0" font-size="11.5" stroke="#000" stroke-width="0.2">750</text>
<text transform="translate(357.12 690.6) scale(1.38 1)" x="0.00" y="0" font-size="11.5" stroke="#000" stroke-width="0.2">0</text>
<text transform="translate(375.62 690.6) scale(1.38 1)" x="0.00 6.74" y="0" font-size="11.5" stroke="#000" stroke-width="0.2">50</text>
<text transform="translate(399.82 690.6) scale(1.38 1)" x="0.72 6.74 13.48" y="0" font-size="11.5" stroke="#000" stroke-width="0.2">100</text>
<text transform="translate(427.72 690.6) scale(1.38 1)" x="0.72 6.74 13.48" y="0" font-size="11.5" stroke="#000" stroke-width="0.2">150</text>
<text transform="translate(463.12 690.6) scale(1.38 1)" x="0.00 6.74 13.48" y="0" font-size="11.5" stroke="#000" stroke-width="0.2">200</text>
<text transform="translate(490.12 690.6) scale(1.38 1)" x="0.00 6.74 13.48" y="0" font-size="11.5" stroke="#000" stroke-width="0.2">250</text>
<text transform="translate(303.8 679.9) rotate(-90) scale(1 1.04)" font-family='"Liberation Serif","DejaVu Serif",serif' font-weight="bold" font-size="27.3" textLength="150.0" lengthAdjust="spacingAndGlyphs">Cell Number</text>
<text x="368.9" y="727.7" font-family='"Liberation Serif","DejaVu Serif",serif' font-weight="bold" font-size="32.6">Topo II<tspan font-weight="normal" font-size="33.2" dx="1.2" textLength="19" lengthAdjust="spacingAndGlyphs">β</tspan></text>
<text transform="translate(465.96 580.20) scale(1 1.065)" font-family='"Liberation Serif","DejaVu Serif",serif' font-weight="bold" font-size="37.2">E</text>
<path d="M362.7 678.5L367.3 670.8L370.4 612.3L372.5 557.0L373.8 538.0L374.4 533.8L375.2 538.0L376.5 550.8L379.6 597.0L382.7 637.0L385.8 658.5L390.4 672.3L396.5 677.5" fill="none" stroke="#333" stroke-width="0.9" stroke-linejoin="round"/>
<path d="M376.5 678.5L377.0 677.7L377.5 677.2L378.0 676.6L378.5 676.0L379.0 675.8L379.5 674.7L380.0 674.4L380.5 673.9L381.0 673.2L381.5 672.4L382.0 671.8L382.5 671.4L382.8 670.7L382.9 669.3L383.1 668.7L383.2 668.4L383.3 667.2L383.5 665.9L383.6 665.6L383.7 665.0L383.9 664.1L384.0 663.2L384.1 662.3L384.2 661.5L384.4 660.4L384.5 660.2L384.6 659.3L384.8 658.1L384.9 657.3L385.0 656.6L385.2 655.9L385.3 655.9L385.4 654.5L385.6 653.9L385.7 652.9L385.8 652.1L385.9 651.2L386.0 649.8L386.1 650.1L386.1 649.2L386.2 648.3L386.3 647.5L386.4 647.0L386.4 645.5L386.5 645.2L386.6 645.3L386.7 644.0L386.8 642.7L386.8 640.9L386.9 639.6L387.0 639.9L387.1 639.6L387.1 638.3L387.2 637.9L387.3 637.2L387.4 636.6L387.5 636.1L387.5 634.8L387.6 633.5L387.7 632.8L387.8 631.7L387.8 633.1L387.9 631.2L388.0 630.3L388.1 628.1L388.2 627.4L388.2 627.5L388.3 627.0L388.4 626.2L388.5 626.0L388.5 624.6L388.6 623.2L388.7 622.5L388.8 622.4L388.9 621.9L388.9 621.3L389.0 619.9L389.1 620.4L389.2 617.4L389.2 617.3L389.3 615.6L389.4 615.2L389.5 616.2L389.5 612.7L389.6 612.9L389.7 612.1L389.8 611.6L389.8 611.2L389.9 609.0L390.0 608.5L390.1 607.6L390.1 606.3L390.2 606.5L390.3 605.2L390.4 604.5L390.4 603.1L390.5 601.9L390.6 601.3L390.7 600.4L390.7 599.9L390.8 598.5L390.9 598.1L391.0 600.6L391.1 596.3L391.1 597.7L391.2 599.8L391.3 597.0L391.4 595.4L391.4 593.4L391.5 595.9L391.6 592.1L391.7 591.6L391.7 588.3L391.8 590.2L391.9 589.8L392.0 585.7L392.0 587.8L392.1 587.3L392.2 586.4L392.3 583.1L392.4 583.6L392.5 585.5L392.6 583.7L392.6 579.7L392.7 581.5L392.8 577.2L392.9 580.4L393.0 580.8L393.1 581.8L393.2 576.2L393.3 576.2L393.3 575.2L393.4 573.1L393.5 572.2L393.6 574.0L393.7 571.1L393.8 571.3L393.9 569.6L393.9 568.7L394.0 567.0L394.1 567.4L394.2 569.4L394.3 569.4L394.4 570.0L394.5 561.7L394.5 561.6L394.6 565.3L394.7 564.0L394.8 560.4L394.9 562.6L395.0 560.4L395.1 556.1L395.3 559.8L395.4 558.5L395.6 557.2L395.7 557.1L395.9 551.6L396.0 556.9L396.2 554.1L396.3 556.5L396.5 553.1L396.7 552.4L396.8 549.0L397.0 546.9L397.1 550.2L397.3 546.0L397.4 548.7L397.6 546.5L397.7 540.3L397.9 546.4L398.1 547.0L398.6 541.6L399.1 540.5L399.6 543.3L400.1 540.6L400.7 541.5L401.3 538.6L401.9 541.1L402.5 542.1L403.1 542.5L403.7 547.9L404.3 542.6L404.9 540.8L405.5 542.6L405.9 544.0L406.0 548.4L406.2 551.7L406.3 548.9L406.4 552.4L406.6 548.4L406.7 553.4L406.9 551.8L407.0 552.6L407.1 552.3L407.3 553.9L407.4 557.6L407.6 555.0L407.7 557.8L407.8 557.0L408.0 557.3L408.1 559.1L408.3 555.3L408.4 561.2L408.5 562.2L408.7 559.5L408.8 562.6L409.0 564.1L409.1 562.3L409.3 565.5L409.4 567.8L409.6 568.5L409.7 568.0L409.9 571.8L410.0 571.2L410.2 569.0L410.3 571.2L410.5 574.8L410.6 573.6L410.8 573.1L410.9 575.7L411.1 575.2L411.2 574.6L411.4 575.4L411.5 576.7L411.7 574.8L411.8 578.2L412.0 578.1L412.1 579.8L412.3 580.6L412.4 582.6L412.6 582.6L412.7 583.1L412.9 584.5L413.0 585.5L413.2 585.1L413.3 585.9L413.5 587.4L413.6 588.7L413.8 589.6L413.9 587.6L414.0 589.7L414.2 590.9L414.3 590.0L414.5 592.9L414.6 594.9L414.8 593.4L414.9 594.5L415.1 597.5L415.2 596.3L415.3 597.3L415.5 598.6L415.6 599.2L415.8 600.7L415.9 601.3L416.1 600.3L416.2 603.2L416.4 603.5L416.5 605.6L416.6 605.5L416.8 605.1L416.9 607.6L417.1 606.9L417.2 607.5L417.4 608.8L417.5 609.5L417.7 610.0L417.8 611.2L417.9 611.3L418.1 612.1L418.2 615.1L418.4 613.1L418.5 616.1L418.7 616.1L418.8 615.6L419.0 616.9L419.1 616.8L419.3 618.5L419.4 620.7L419.6 618.6L419.7 621.8L419.9 622.2L420.0 622.1L420.2 623.4L420.3 625.4L420.5 624.9L420.6 626.2L420.8 626.3L420.9 627.5L421.1 628.7L421.2 629.7L421.4 629.3L421.5 631.3L421.7 632.3L421.8 632.1L422.0 633.6L422.1 633.6L422.3 635.2L422.4 635.7L422.6 636.3L422.8 637.7L423.0 638.4L423.2 638.9L423.4 639.4L423.6 640.7L423.9 641.0L424.1 643.0L424.3 641.4L424.5 643.9L424.7 644.8L425.0 644.9L425.2 644.9L425.4 646.8L425.6 647.3L425.8 648.3L426.0 649.4L426.3 649.5L426.5 650.2L426.7 651.4L426.9 651.7L427.1 652.4L427.4 653.5L427.6 654.3L427.8 655.3L428.0 656.2L428.2 656.6L428.5 657.0L428.7 658.8L429.0 659.6L429.3 659.9L429.7 659.7L430.0 660.4L430.4 661.7L430.8 661.9L431.1 663.4L431.5 663.9L431.8 664.8L432.2 665.3L432.6 665.9L432.9 666.3L433.3 666.8L433.7 668.6L434.0 669.1L434.4 669.0L434.7 670.4L435.2 670.8L435.8 671.6L436.5 672.0L437.2 672.8L437.8 672.3L438.5 673.0L439.2 674.0L439.8 673.9L440.5 674.8L441.2 675.3L441.8 675.3L442.5 675.8L443.2 676.6L443.8 676.4L444.6 676.5L445.4 677.2L446.2 676.9L446.9 677.3L447.7 677.8L448.5 677.9L449.3 678.2L450.1 677.9L450.9 678.0L451.7 677.7L452.5 677.9L453.3 677.3L454.1 678.5L454.9 678.2L455.7 678.3L456.5 678.2" fill="none" stroke="#000" stroke-width="1.3" stroke-linejoin="round"/>
</svg></body></html>
